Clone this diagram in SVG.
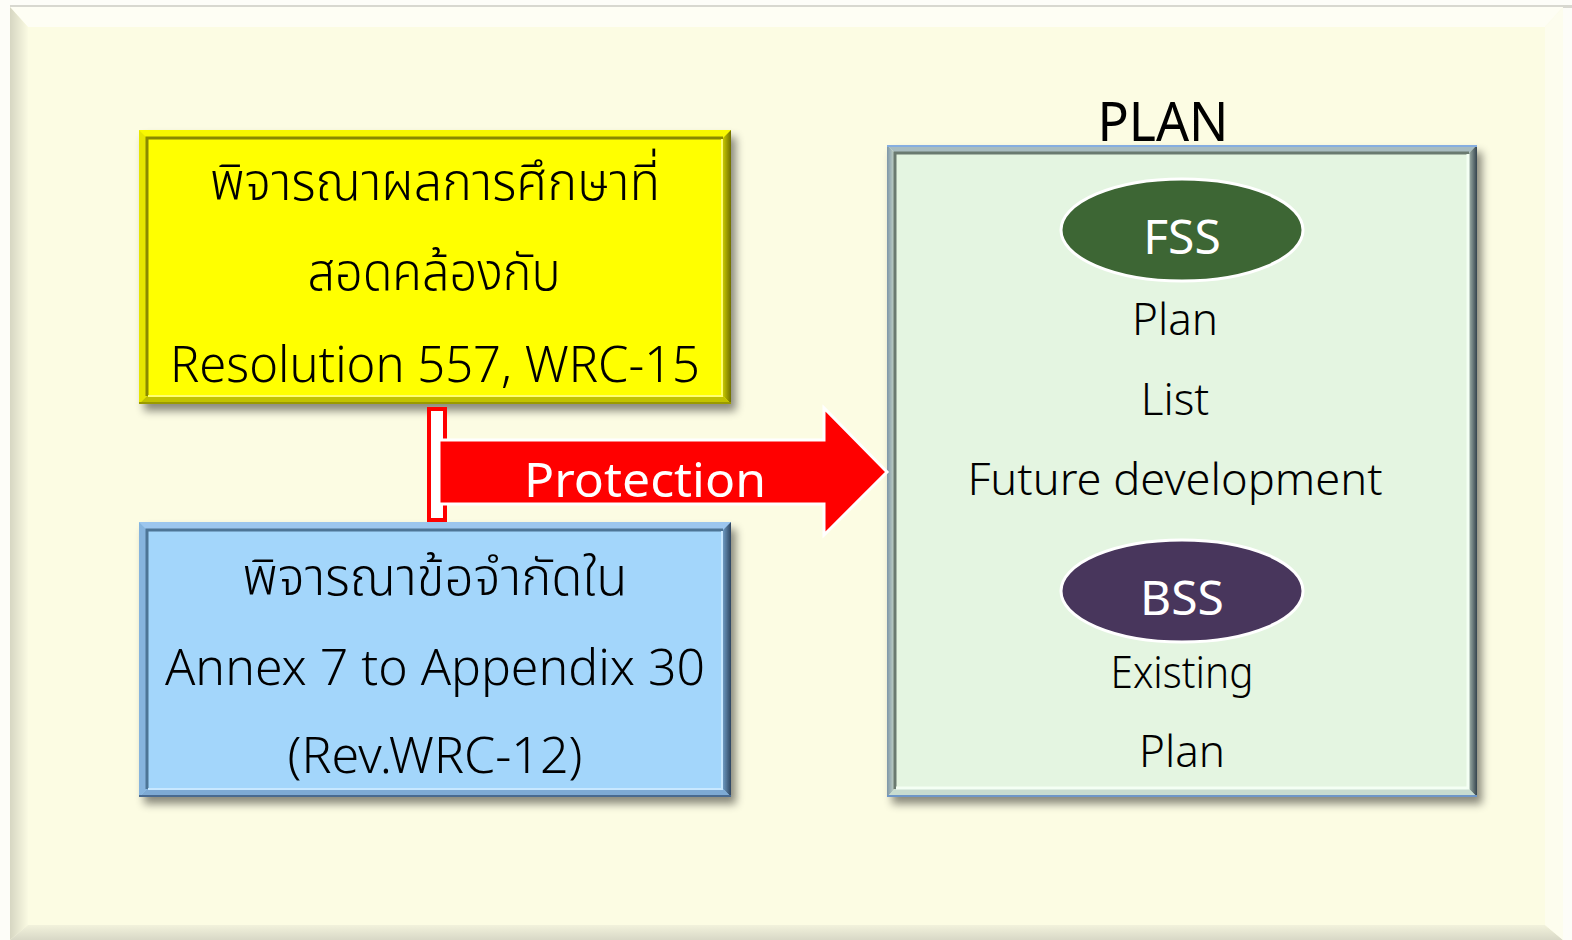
<svg xmlns="http://www.w3.org/2000/svg" width="1572" height="940" viewBox="0 0 1572 940">
<style>
.t{font-family:"Noto Sans","Noto Sans Thai","DejaVu Sans",sans-serif;text-anchor:middle;fill:#000;font-weight:300}
.w{fill:#fff}
.m{font-weight:400}
</style>
<defs>
<filter id="sh" x="-10%" y="-10%" width="125%" height="130%">
<feDropShadow dx="5" dy="7" stdDeviation="4" flood-color="#000" flood-opacity="0.45"/>
</filter>
<linearGradient id="yr" x1="0" y1="0" x2="1" y2="0"><stop offset="0" stop-color="#c8c800"/><stop offset="1" stop-color="#6e6e00"/></linearGradient>
<linearGradient id="br" x1="0" y1="0" x2="1" y2="0"><stop offset="0" stop-color="#6d98c0"/><stop offset="1" stop-color="#2e4560"/></linearGradient>
<linearGradient id="gr" x1="0" y1="0" x2="1" y2="0"><stop offset="0" stop-color="#9fb0a8"/><stop offset="1" stop-color="#34444e"/></linearGradient>
<linearGradient id="gl" x1="0" y1="0" x2="1" y2="0"><stop offset="0" stop-color="#7e96a8"/><stop offset="1" stop-color="#c8d8c8"/></linearGradient>
<linearGradient id="pl" x1="0" y1="0" x2="1" y2="0"><stop offset="0" stop-color="#d6d6c2"/><stop offset="1" stop-color="#fafae2"/></linearGradient>
<linearGradient id="pb" x1="0" y1="0" x2="0" y2="1"><stop offset="0" stop-color="#f2f2dc"/><stop offset="1" stop-color="#d8d8c6"/></linearGradient>
</defs>
<!-- background panel -->
<rect x="0" y="0" width="1572" height="940" fill="#fdfdf8"/>
<rect x="10" y="5" width="1562" height="3" fill="#d8d8d0"/>
<rect x="10" y="7" width="1553" height="933" fill="#fcfce3"/>
<polygon points="10,7 1563,7 1545,27 28,27" fill="#fefef4"/>
<polygon points="10,7 28,27 28,925 10,940" fill="url(#pl)"/>
<polygon points="10,940 28,925 1545,925 1563,940" fill="url(#pb)"/>
<polygon points="1563,7 1563,940 1545,925 1545,27" fill="#fdfdee"/>

<g id="yellow-box" filter="url(#sh)">
<rect x="139" y="130" width="592" height="274" fill="#ffff00"/>
<polygon points="139,130 731,130 723,138 147,138" fill="#f8f800"/>
<polygon points="139,130 147,138 147,396 139,404" fill="#e6e600"/>
<polygon points="731,130 731,404 723,396 723,138" fill="url(#yr)"/>
<polygon points="139,404 731,404 723,396 147,396" fill="#c2c200"/>
<line x1="139" y1="403" x2="731" y2="403" stroke="#9a9a00" stroke-width="2"/>
<polyline points="147,396 147,138 723,138" fill="none" stroke="#8a8a00" stroke-width="3"/>
<polyline points="148,396 722,396 722,139" fill="none" stroke="#ffff70" stroke-width="2"/>
</g>
<g id="yellow-text">
<text class="t" x="435" y="200" font-size="52" textLength="450" lengthAdjust="spacingAndGlyphs">พิจารณาผลการศึกษาที่</text>
<text class="t" x="434" y="290" font-size="52" textLength="253" lengthAdjust="spacingAndGlyphs">สอดคล้องกับ</text>
<text class="t" x="435" y="382" font-size="50" textLength="530" lengthAdjust="spacingAndGlyphs">Resolution 557, WRC-15</text>
</g>

<g id="blue-box" filter="url(#sh)">
<rect x="139" y="522" width="592" height="275" fill="#a3d6fb"/>
<polygon points="139,522 731,522 723,530 147,530" fill="#9cc6ee"/>
<polygon points="139,522 147,530 147,789 139,797" fill="#86b4de"/>
<polygon points="731,522 731,797 723,789 723,530" fill="url(#br)"/>
<polygon points="139,797 731,797 723,789 147,789" fill="#7eaad4"/>
<line x1="139" y1="796" x2="731" y2="796" stroke="#4a6a90" stroke-width="2"/>
<polyline points="147,789 147,530 723,530" fill="none" stroke="#4e7496" stroke-width="3"/>
<polyline points="148,789 722,789 722,531" fill="none" stroke="#c8e8ff" stroke-width="2"/>
</g>
<g id="blue-text">
<text class="t" x="435" y="595" font-size="52" textLength="385" lengthAdjust="spacingAndGlyphs">พิจารณาข้อจำกัดใน</text>
<text class="t" x="435" y="685" font-size="50" textLength="540" lengthAdjust="spacingAndGlyphs">Annex 7 to Appendix 30</text>
<text class="t" x="435" y="773" font-size="50" textLength="295" lengthAdjust="spacingAndGlyphs">(Rev.WRC-12)</text>
</g>

<g id="plan-box">
<g filter="url(#sh)">
<rect x="887" y="145" width="590" height="652" fill="#e4f5e1"/>
<polygon points="887,145 1477,145 1469,153 895,153" fill="#a8bcc0"/>
<polygon points="887,145 895,153 895,789 887,797" fill="url(#gl)"/>
<polygon points="1477,145 1477,797 1469,789 1469,153" fill="url(#gr)"/>
<polygon points="887,797 1477,797 1469,789 895,789" fill="#c8dcd0"/>
<line x1="887" y1="146" x2="1477" y2="146" stroke="#86aee0" stroke-width="2"/>
<line x1="887" y1="796" x2="1477" y2="796" stroke="#6e96c8" stroke-width="2"/>
<polyline points="895,789 895,153 1469,153" fill="none" stroke="#6a7a70" stroke-width="3"/>
<polyline points="896,788 1468,788 1468,154" fill="none" stroke="#f4fff4" stroke-width="3"/>
</g>
<text class="t m" x="1163" y="141" font-size="54" textLength="131" lengthAdjust="spacingAndGlyphs">PLAN</text>
</g>

<g id="fss">
<ellipse cx="1182" cy="230" rx="121" ry="51" fill="#3d6634" stroke="#fff" stroke-width="3"/>
<text class="t w m" x="1182" y="254" font-size="48">FSS</text>
</g>
<g id="fss-items">
<text class="t" x="1175" y="335" font-size="44">Plan</text>
<text class="t" x="1175" y="415" font-size="44">List</text>
<text class="t" x="1175" y="495" font-size="44" textLength="415" lengthAdjust="spacingAndGlyphs">Future development</text>
</g>
<g id="bss">
<ellipse cx="1182" cy="591" rx="121" ry="51" fill="#48365c" stroke="#fff" stroke-width="3"/>
<text class="t w m" x="1182" y="615" font-size="48">BSS</text>
</g>
<g id="bss-items">
<text class="t" x="1182" y="688" font-size="44" textLength="143" lengthAdjust="spacingAndGlyphs">Existing</text>
<text class="t" x="1182" y="767" font-size="44">Plan</text>
</g>

<g id="connectors">
<rect x="429" y="409" width="16" height="111" fill="#fff" stroke="#ff0000" stroke-width="4"/>
<polygon points="439,440 824,440 824,408 887,472 824,535 824,504 439,504" fill="#ff0000" stroke="#fff" stroke-width="3"/>
<text class="t w m" x="645" y="497" font-size="48" textLength="242" lengthAdjust="spacingAndGlyphs">Protection</text>
</g>
</svg>
